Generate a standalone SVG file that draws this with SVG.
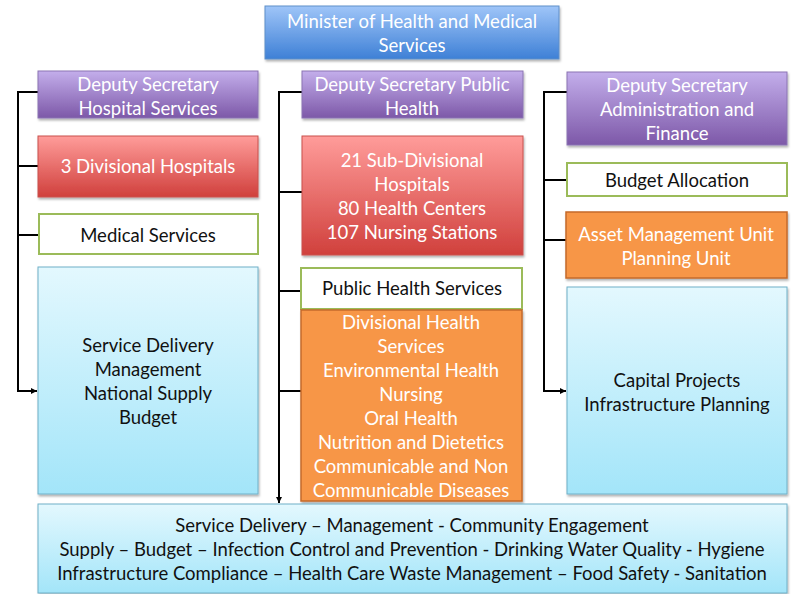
<svg xmlns="http://www.w3.org/2000/svg" width="793" height="594" viewBox="0 0 793 594">
<defs>
  <linearGradient id="gMin" x1="0" y1="0" x2="0" y2="1">
    <stop offset="0" stop-color="#9fc5f8"/><stop offset="1" stop-color="#3e80d6"/>
  </linearGradient>
  <linearGradient id="gPur" x1="0" y1="0" x2="0" y2="1">
    <stop offset="0" stop-color="#c3aeeb"/><stop offset="1" stop-color="#7d58a8"/>
  </linearGradient>
  <linearGradient id="gRed" x1="0" y1="0" x2="0" y2="1">
    <stop offset="0" stop-color="#ff9c9a"/><stop offset="1" stop-color="#d0403c"/>
  </linearGradient>
  <linearGradient id="gBlue" x1="0" y1="0" x2="0" y2="1">
    <stop offset="0" stop-color="#e3f8fe"/><stop offset="1" stop-color="#a3e5f9"/>
  </linearGradient>
  <filter id="sh" x="-5%" y="-5%" width="110%" height="115%">
    <feDropShadow dx="1" dy="2" stdDeviation="1.2" flood-color="#000" flood-opacity="0.3"/>
  </filter>
  <marker id="arr" viewBox="0 0 10 10" refX="10" refY="5" markerWidth="6" markerHeight="6" markerUnits="userSpaceOnUse" orient="auto">
    <path d="M0,0 L10,5 L0,10 z" fill="#000"/>
  </marker>
</defs>
<style>
  text { font-family: "Lato", "Noto Sans", "Liberation Sans", sans-serif; font-size: 18.5px; text-anchor: middle; }
  .w { fill: #ffffff; }
  .k { fill: #111111; }
  .min { fill: url(#gMin); stroke: #5f8fc9; stroke-width: 1; filter: url(#sh); }
  .pur { fill: url(#gPur); stroke: #8b74b3; stroke-width: 1; filter: url(#sh); }
  .red { fill: url(#gRed); stroke: #c9504c; stroke-width: 1; filter: url(#sh); }
  .grn { fill: #ffffff; stroke: #9bbb59; stroke-width: 2; }
  .blu { fill: url(#gBlue); stroke: #6fb0c8; stroke-width: 1; filter: url(#sh); }
  .org { fill: #f79646; stroke: #c5692a; stroke-width: 1.5; filter: url(#sh); }
  .con { fill: none; stroke: #000; stroke-width: 2; }
</style>

<g id="connectors">
  <path class="con" d="M38,92 H18 V391 H37" marker-end="url(#arr)"/>
  <path class="con" d="M18,166 H38 M18,235 H38"/>
  <path class="con" d="M302,92 H279 V503" marker-end="url(#arr)"/>
  <path class="con" d="M279,192 H302 M279,291 H301 M279,391 H301"/>
  <path class="con" d="M567,92 H544 V391 H566" marker-end="url(#arr)"/>
  <path class="con" d="M544,180 H566 M544,240 H566"/>
</g>

<g id="minister">
  <rect class="min" x="265" y="6" width="294" height="53"/>
  <text class="w" x="412" y="28">Minister of Health and Medical</text>
  <text class="w" x="412" y="52">Services</text>
</g>

<g id="ds-hospital">
  <rect class="pur" x="38" y="71" width="220" height="47"/>
  <text class="w" x="148" y="91">Deputy Secretary</text>
  <text class="w" x="148" y="115">Hospital Services</text>
</g>
<g id="divisional-hospitals">
  <rect class="red" x="38" y="136" width="220" height="61"/>
  <text class="w" x="148" y="173">3 Divisional Hospitals</text>
</g>
<g id="medical-services">
  <rect class="grn" x="39" y="214" width="219" height="40"/>
  <text class="k" x="148" y="242">Medical Services</text>
</g>
<g id="hospital-functions">
  <rect class="blu" x="38" y="267" width="220" height="227"/>
  <text class="k" x="148" y="352">Service Delivery</text>
  <text class="k" x="148" y="376">Management</text>
  <text class="k" x="148" y="400">National Supply</text>
  <text class="k" x="148" y="424">Budget</text>
</g>

<g id="ds-public-health">
  <rect class="pur" x="302" y="71" width="221" height="47"/>
  <text class="w" x="412" y="91">Deputy Secretary Public</text>
  <text class="w" x="412" y="115">Health</text>
</g>
<g id="sub-divisional">
  <rect class="red" x="302" y="136" width="221" height="119"/>
  <text class="w" x="412" y="167">21 Sub-Divisional</text>
  <text class="w" x="412" y="191">Hospitals</text>
  <text class="w" x="412" y="215">80 Health Centers</text>
  <text class="w" x="412" y="239">107 Nursing Stations</text>
</g>
<g id="public-health-services">
  <rect class="grn" x="301" y="268" width="221" height="41"/>
  <text class="k" x="412" y="295">Public Health Services</text>
</g>
<g id="public-health-units">
  <rect class="org" x="301" y="310" width="221" height="191"/>
  <text class="w" x="411" y="329">Divisional Health</text>
  <text class="w" x="411" y="353">Services</text>
  <text class="w" x="411" y="377">Environmental Health</text>
  <text class="w" x="411" y="401">Nursing</text>
  <text class="w" x="411" y="425">Oral Health</text>
  <text class="w" x="411" y="449">Nutrition and Dietetics</text>
  <text class="w" x="411" y="473">Communicable and Non</text>
  <text class="w" x="411" y="497">Communicable Diseases</text>
</g>

<g id="ds-admin-finance">
  <rect class="pur" x="567" y="72" width="220" height="73"/>
  <text class="w" x="677" y="92">Deputy Secretary</text>
  <text class="w" x="677" y="116">Administration and</text>
  <text class="w" x="677" y="140">Finance</text>
</g>
<g id="budget-allocation">
  <rect class="grn" x="567" y="163" width="220" height="33"/>
  <text class="k" x="677" y="187">Budget Allocation</text>
</g>
<g id="asset-management">
  <rect class="org" x="566" y="212" width="221" height="66"/>
  <text class="w" x="676" y="241">Asset Management Unit</text>
  <text class="w" x="676" y="265">Planning Unit</text>
</g>
<g id="capital-projects">
  <rect class="blu" x="567" y="287" width="220" height="207"/>
  <text class="k" x="677" y="387">Capital Projects</text>
  <text class="k" x="677" y="411">Infrastructure Planning</text>
</g>

<g id="common-functions">
  <rect class="blu" x="38" y="504" width="749" height="89"/>
  <text class="k" x="412" y="532">Service Delivery – Management - Community Engagement</text>
  <text class="k" x="412" y="556">Supply – Budget – Infection Control and Prevention - Drinking Water Quality - Hygiene</text>
  <text class="k" x="412" y="580">Infrastructure Compliance – Health Care Waste Management – Food Safety - Sanitation</text>
</g>
</svg>
